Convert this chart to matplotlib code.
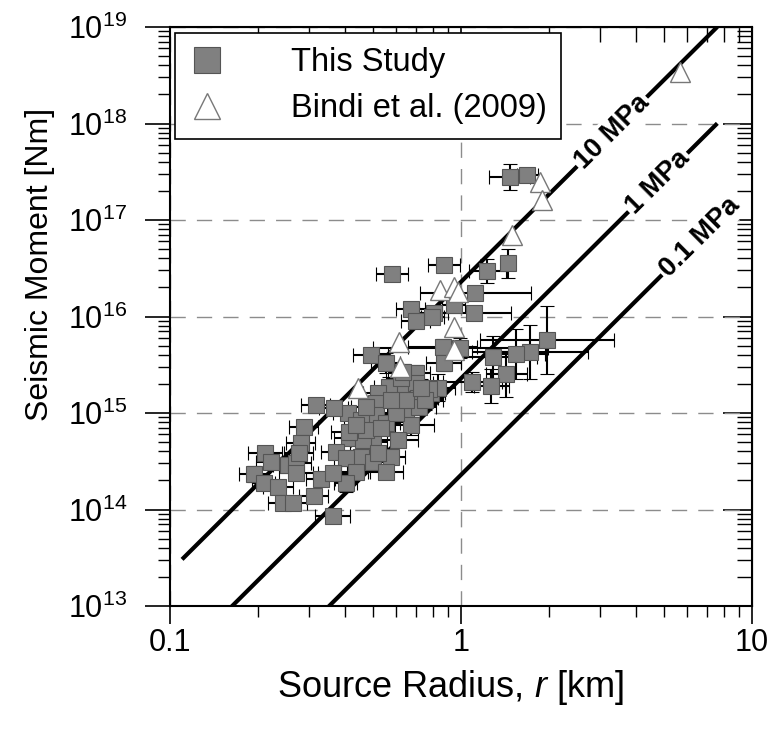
import numpy as np
import matplotlib
matplotlib.use("Agg")
import matplotlib.pyplot as plt
import matplotlib.ticker as ticker
from matplotlib.lines import Line2D

plt.rcParams['font.family'] = ['Liberation Sans', 'DejaVu Sans']
plt.rcParams['mathtext.fontset'] = 'custom'
plt.rcParams['mathtext.rm'] = 'Liberation Sans'
plt.rcParams['mathtext.it'] = 'Liberation Sans:italic'
plt.rcParams['mathtext.bf'] = 'Liberation Sans:bold'

# this study: radius [km], moment [Nm], errors as half-width in decades
r_study = [1.47, 1.69, 0.871, 1.233, 1.455, 1.121, 1.104, 0.805, 0.943, 0.578,
           0.671, 0.798, 0.698, 0.864, 0.996, 0.871, 0.489, 0.551, 1.98, 1.73,
           1.54, 1.29, 1.43, 1.095, 1.27, 0.698, 0.620, 0.564, 0.517, 0.698,
           0.709, 0.786, 0.831, 0.645, 0.715, 0.509, 0.509, 0.408, 0.365, 0.551,
           0.671, 0.596, 0.452, 0.411, 0.497, 0.606, 0.459, 0.452, 0.573, 0.497,
           0.371, 0.402, 0.620, 0.774, 0.435, 0.551, 0.402, 0.470, 0.317, 0.288,
           0.411, 0.281, 0.517, 0.212, 0.222, 0.254, 0.271, 0.194, 0.271, 0.330,
           0.362, 0.210, 0.235, 0.244, 0.264, 0.312, 0.362, 0.277, 0.645, 0.755,
           0.573, 0.470, 0.530, 0.726, 0.435, 0.631]
m_study = [2.79e17, 2.93e17, 3.42e16, 2.96e16, 3.58e16, 1.75e16, 1.09e16, 1.09e16, 1.31e16, 2.76e16,
           1.20e16, 9.9e15, 8.98e15, 4.83e15, 4.72e15, 3.30e15, 3.99e15, 3.30e15, 5.70e15, 4.29e15,
           4.08e15, 3.80e15, 2.54e15, 2.10e15, 1.90e15, 2.60e15, 1.82e15, 1.86e15, 1.61e15, 2.05e15,
           1.43e15, 1.61e15, 1.82e15, 1.02e15, 1.15e15, 1.27e15, 9.5e14, 1.0e15, 1.13e15, 7.9e14,
           7.5e14, 1.0e15, 8.5e14, 5.5e14, 5.0e14, 5.25e14, 5.25e14, 3.5e14, 3.5e14, 3.1e14,
           3.95e14, 3.42e14, 2.31e15, 1.77e15, 2.45e14, 2.45e14, 1.88e14, 1.15e15, 1.21e15, 7.2e14,
           6.4e14, 4.9e14, 3.85e14, 3.85e14, 3.1e14, 2.89e14, 3.03e14, 2.33e14, 2.39e14, 2.07e14,
           2.39e14, 1.88e14, 1.71e14, 1.17e14, 1.17e14, 1.38e14, 8.6e13, 3.85e14, 1.36e15, 1.36e15,
           1.36e15, 6.7e14, 7.0e14, 1.82e15, 7.5e14, 2.66e15]
dr_study = [0.07, 0.035, 0.055, 0.065, 0.02, 0.19, 0.13, 0.05, 0.04, 0.055,
            0.05, 0.04, 0.05, 0.12, 0.30, 0.06, 0.06, 0.05, 0.23, 0.20,
            0.10, 0.15, 0.07, 0.10, 0.06, 0.05, 0.04, 0.05, 0.05, 0.06,
            0.07, 0.05, 0.06, 0.05, 0.06, 0.05, 0.04, 0.05, 0.05, 0.05,
            0.08, 0.05, 0.04, 0.05, 0.05, 0.07, 0.04, 0.05, 0.05, 0.04,
            0.05, 0.04, 0.05, 0.05, 0.05, 0.06, 0.04, 0.05, 0.05, 0.05,
            0.06, 0.05, 0.05, 0.06, 0.05, 0.05, 0.05, 0.05, 0.06, 0.05,
            0.05, 0.04, 0.05, 0.05, 0.05, 0.05, 0.06, 0.05, 0.05, 0.06,
            0.05, 0.05, 0.05, 0.05, 0.04, 0.05]
dm_study = [0.13, 0.03, 0.03, 0.12, 0.15, 0.05, 0.05, 0.04, 0.06, 0.03,
            0.04, 0.05, 0.06, 0.08, 0.10, 0.08, 0.05, 0.10, 0.35, 0.28,
            0.26, 0.22, 0.24, 0.10, 0.18, 0.08, 0.07, 0.10, 0.06, 0.09,
            0.12, 0.10, 0.14, 0.10, 0.08, 0.07, 0.06, 0.05, 0.06, 0.09,
            0.10, 0.08, 0.06, 0.06, 0.08, 0.07, 0.06, 0.07, 0.06, 0.06,
            0.05, 0.08, 0.07, 0.08, 0.06, 0.07, 0.09, 0.08, 0.05, 0.07,
            0.06, 0.06, 0.05, 0.05, 0.06, 0.07, 0.05, 0.08, 0.06, 0.06,
            0.07, 0.05, 0.06, 0.05, 0.05, 0.06, 0.05, 0.05, 0.08, 0.10,
            0.07, 0.07, 0.06, 0.09, 0.06, 0.08]

# Bindi et al. (2009)
r_bindi = [5.66, 1.87, 1.90, 1.50, 0.844, 0.943, 0.973, 0.610, 0.943, 0.943, 0.615, 0.442]
m_bindi = [3.42e18, 2.48e17, 1.61e17, 7.0e16, 1.88e16, 2.02e16, 1.80e16, 5.45e15, 4.5e15, 7.8e15, 3.0e15, 1.82e15]

# constant stress drop lines (M0 = 16/7 dsigma r^3)
stress_mpa = [10, 1, 0.1]
stress_labels = ['10 MPa', '1 MPa', '0.1 MPa']
label_r = [3.3, 4.75, 6.6]
r_line = np.array([0.11, 7.6])

fig = plt.figure(figsize=(7.73, 7.29), dpi=100)
ax = fig.add_axes([170 / 773, 123 / 729, 582 / 773, 579 / 729])
ax.set_xscale('log')
ax.set_yscale('log')
ax.set_xlim(0.1, 10)
ax.set_ylim(1e13, 1e19)

ax.grid(True, which='major', color='#8c8c8c', lw=1.0, ls=(0, (11, 8)), zorder=0)

for s in stress_mpa:
    ax.plot(r_line, 16 / 7 * s * 1e6 * (r_line * 1e3) ** 3, color='black', lw=3.0,
            solid_capstyle='butt', zorder=2)

r_s = np.array(r_study)
m_s = np.array(m_study)
dr = np.array(dr_study)
dm = np.array(dm_study)
xerr = [r_s * (1 - 10 ** -dr), r_s * (10 ** dr - 1)]
yerr = [m_s * (1 - 10 ** -dm), m_s * (10 ** dm - 1)]
ax.errorbar(r_s, m_s, xerr=xerr, yerr=yerr, fmt='s', ms=11.8, mfc='#808080',
            mec='#555555', mew=0.8, ecolor='black', elinewidth=1.5, capsize=5,
            capthick=1.5, zorder=3)
ax.plot(r_bindi, m_bindi, '^', ms=15, mfc='white', mec='#777777', mew=1.0, zorder=4)

# labels on the stress lines
p0 = ax.transData.transform((1.0, 1e15))
p1 = ax.transData.transform((10.0, 1e18))
angle = np.degrees(np.arctan2(p1[1] - p0[1], p1[0] - p0[0]))
for s, lab, rl in zip(stress_mpa, stress_labels, label_r):
    ax.text(rl, 16 / 7 * s * 1e6 * (rl * 1e3) ** 3, lab, rotation=angle,
            rotation_mode='anchor', ha='center', va='center', fontsize=19.5,
            fontweight='bold', zorder=5,
            bbox=dict(facecolor='white', edgecolor='none', pad=1.5))

ax.xaxis.set_major_formatter(ticker.FuncFormatter(lambda v, _: f'{v:g}'))
ax.xaxis.set_minor_formatter(ticker.NullFormatter())
ax.yaxis.set_minor_locator(ticker.LogLocator(base=10, subs=np.arange(2, 10), numticks=20))
ax.yaxis.set_minor_formatter(ticker.NullFormatter())
ax.tick_params(axis='y', which='major', direction='out', length=18, width=1.2, labelsize=22, pad=13)
ax.tick_params(axis='y', which='minor', direction='out', length=9, width=1.0)
ax.tick_params(axis='x', which='major', direction='out', length=13, width=1.2, labelsize=22, pad=3)
ax.tick_params(axis='x', which='minor', direction='out', length=8, width=1.0)
for sp in ax.spines.values():
    sp.set_linewidth(1.5)

secx = ax.secondary_xaxis('top')
secx.tick_params(which='major', direction='in', length=21, width=1.2, labeltop=False)
secx.tick_params(which='minor', direction='in', length=11, width=1.0)
secy = ax.secondary_yaxis('right')
secy.yaxis.set_minor_locator(ticker.LogLocator(base=10, subs=np.arange(2, 10), numticks=20))
secy.tick_params(which='major', direction='in', length=21, width=1.2, labelright=False)
secy.tick_params(which='minor', direction='in', length=11, width=1.0)

ax.set_xlabel('Source Radius, $r$ [km]', fontsize=26)
ax.xaxis.set_label_coords(0.481, -0.107)
ax.set_ylabel('Seismic Moment [Nm]', fontsize=23)
ax.yaxis.set_label_coords(-0.198, 0.59)

handles = [Line2D([], [], ls='none', marker='s', ms=19, mfc='#808080', mec='#555555', mew=0.8),
           Line2D([], [], ls='none', marker='^', ms=19, mfc='white', mec='#777777', mew=1.0)]
leg = ax.legend(handles, ['This Study', 'Bindi et al. (2009)'], loc='upper left',
                bbox_to_anchor=(0.008, 0.99), borderaxespad=0, fontsize=23.5,
                frameon=True, fancybox=False, edgecolor='black', framealpha=1,
                borderpad=0.45, handlelength=1.1, handletextpad=2.0, labelspacing=0.45)
leg.get_frame().set_linewidth(1.2)
leg.set_zorder(6)

fig.savefig('out.png', dpi=100)
